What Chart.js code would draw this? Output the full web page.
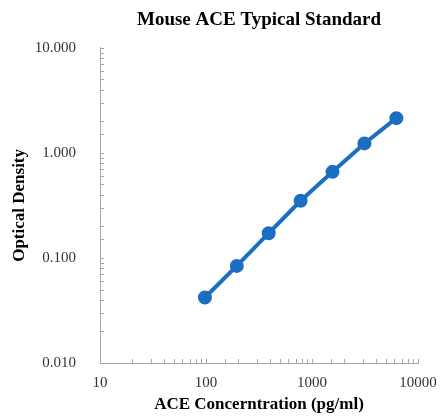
<!DOCTYPE html>
<html>
<head>
<meta charset="utf-8">
<script src="https://cdn.jsdelivr.net/npm/chart.js@4"></script>
<style>
  html, body { margin: 0; padding: 0; background: #fff; }
  #wrap { width: 440px; height: 416px; }
</style>
</head>
<body>
<div id="wrap"><canvas id="stdChart"></canvas></div>
<script>
// Datos de la curva estándar
const concentrations = [97.7, 195.3, 390.6, 781.25, 1562.5, 3125, 6250];
const densities = [0.042, 0.084, 0.172, 0.35, 0.66, 1.23, 2.14];
const xTickLabels = [10, 100, 1000, 10000];
const yTickLabels = [0.01, 0.1, 1, 10];

const blue = '#1b6ec2';
const serif = "'Liberation Serif', 'Times New Roman', serif";

const isMajor = (v, list) => list.some(t => Math.abs(t - v) / t < 1e-6);

// Marcas de eje hacia dentro (como Excel)
const innerTicks = {
    id: 'innerTicks',
    afterDraw(chart) {
        const ctx = chart.ctx;
        const x = chart.scales.x, y = chart.scales.y;
        ctx.save();
        ctx.strokeStyle = '#a6a6a6';
        ctx.lineWidth = 1;
        ctx.beginPath();
        y.ticks.forEach(t => {
            const py = Math.round(y.getPixelForValue(t.value)) + 0.5;
            ctx.moveTo(x.left, py);
            ctx.lineTo(x.left + 4, py);
        });
        x.ticks.forEach(t => {
            const px = Math.round(x.getPixelForValue(t.value)) + 0.5;
            ctx.moveTo(px, y.bottom);
            ctx.lineTo(px, y.bottom - 4);
        });
        ctx.stroke();
        ctx.restore();
    }
};

new Chart(document.getElementById('stdChart'), {
    type: 'scatter',
    data: {
        datasets: [{
            data: concentrations.map((c, i) => ({ x: c, y: densities[i] })),
            showLine: true,
            borderColor: blue,
            backgroundColor: blue,
            borderWidth: 4,
            pointRadius: 5,
            pointHoverRadius: 5,
            tension: 0
        }]
    },
    options: {
        responsive: true,
        maintainAspectRatio: false,
        animation: false,
        layout: { padding: { top: 9, right: 22, left: 0, bottom: 0 } },
        plugins: {
            legend: { display: false },
            tooltip: { enabled: false },
            title: {
                display: true,
                text: 'Mouse ACE Typical Standard',
                color: '#000',
                fullSize: false,
                font: { family: serif, size: 19, weight: 'bold' },
                padding: { top: 0, bottom: 16 }
            }
        },
        scales: {
            x: {
                type: 'logarithmic',
                min: 10,
                max: 10000,
                grid: { display: false },
                border: { display: true, color: '#a6a6a6' },
                ticks: {
                    autoSkip: false,
                    maxRotation: 0,
                    color: '#333',
                    padding: 3,
                    font: { family: serif, size: 15 },
                    callback: v => isMajor(v, xTickLabels) ? String(v) : ''
                },
                title: {
                    display: true,
                    text: 'ACE Concerntration (pg/ml)',
                    color: '#000',
                    font: { family: serif, size: 17, weight: 'bold' },
                    padding: { top: 2, bottom: 1 }
                },
                afterFit: s => { s.height = 53; }
            },
            y: {
                type: 'logarithmic',
                min: 0.01,
                max: 10,
                grid: { display: false },
                border: { display: true, color: '#a6a6a6' },
                ticks: {
                    autoSkip: false,
                    color: '#333',
                    padding: 16,
                    font: { family: serif, size: 15 },
                    callback: v => isMajor(v, yTickLabels) ? Number(v).toFixed(3) : ''
                },
                title: {
                    display: true,
                    text: 'Optical Density',
                    color: '#000',
                    font: { family: serif, size: 17, weight: 'bold' },
                    padding: { top: 9, bottom: 0 }
                },
                afterFit: s => { s.width = 100; }
            }
        }
    },
    plugins: [innerTicks]
});
</script>
</body>
</html>
